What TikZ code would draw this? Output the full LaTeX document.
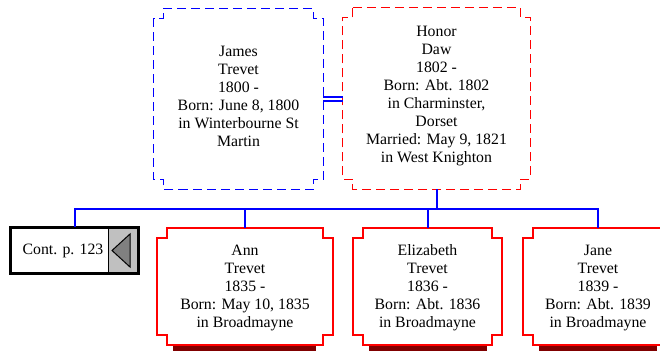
\documentclass[tikz,border=0pt]{standalone}
\usepackage{fontspec}
\setmainfont{Liberation Serif}
\usetikzlibrary{calc}
\definecolor{shadowred}{RGB}{128,0,0}
\definecolor{contgray}{RGB}{192,192,192}
\definecolor{trigray}{RGB}{128,128,128}
\tikzset{
  person/.style={inner sep=0pt, align=center, font=\fontsize{15.8bp}{18bp}\selectfont},
  dashblue/.style={draw=blue, line width=1bp, dash pattern=on 9bp off 5bp},
  dashred/.style={draw=red, line width=1bp, dash pattern=on 9bp off 5bp},
  childbox/.style={draw=red, line width=2bp, fill=white},
  bus/.style={draw=blue, line width=2bp},
  marriage/.style={draw=blue, line width=1.3bp},
  shadowbar/.style={fill=shadowred, draw=none}
}
\newcommand\notchbox[3]{% node, notch, style
  \draw[#3] ($(#1.north west)+(#2,0)$) -- ($(#1.north east)+(-#2,0)$) -- ++(0,-#2) -- ++(#2,0)
   -- ($(#1.south east)+(0,#2)$) -- ++(-#2,0) -- ++(0,-#2)
   -- ($(#1.south west)+(#2,0)$) -- ++(0,#2) -- ++(-#2,0)
   -- ($(#1.north west)+(0,-#2)$) -- ++(#2,0) -- cycle;}
\begin{document}
\begin{tikzpicture}[x=1bp,y=-1bp]
\useasboundingbox (0,0) rectangle (660,351);
% shadows
\fill[shadowbar] (173,343) rectangle (316,351);
\fill[shadowbar] (369,343) rectangle (487,351);
\fill[shadowbar] (539,343) rectangle (657,351);
% nodes (geometry)
\node[person, minimum width=169bp, minimum height=180bp] (james) at (238.5,99) {};
\node[person, minimum width=187bp, minimum height=181bp] (honor) at (436.5,98.5) {};
\node[person, minimum width=176bp, minimum height=117bp] (ann) at (245,286.5) {};
\node[person, minimum width=149bp, minimum height=117bp] (eliz) at (427.5,286.5) {};
\node[person, minimum width=150bp, minimum height=117bp] (jane) at (598,286.5) {};
% outlines
\notchbox{james}{9.5bp}{dashblue}
\notchbox{honor}{10bp}{dashred}
\notchbox{ann}{10bp}{childbox}
\notchbox{eliz}{10bp}{childbox}
\notchbox{jane}{10bp}{childbox}
% texts
\node[person] (jamestext) at (238.5,96) {James\\Trevet\\1800 -\\Born: June 8, 1800\\in Winterbourne St\\Martin};
\node[person] (honortext) at (436.5,96) {Honor\\Daw\\1802 -\\Born: Abt. 1802\\in Charminster,\\Dorset\\Married: May 9, 1821\\in West Knighton};
\node[person] (anntext) at (245,288) {Ann\\Trevet\\1835 -\\Born: May 10, 1835\\in Broadmayne};
\node[person] (eliztext) at (427.5,288) {Elizabeth\\Trevet\\1836 -\\Born: Abt. 1836\\in Broadmayne};
\node[person] (janetext) at (598,288) {Jane\\Trevet\\1839 -\\Born: Abt. 1839\\in Broadmayne};
% continuation box
\node[draw=black, line width=2bp, fill=white, minimum width=127bp, minimum height=45bp, inner sep=0pt] (cont) at (74.5,250.5) {};
\fill[contgray] (108,229) rectangle (137,272);
\draw[black, line width=0.8bp] (108,229) -- (108,272);
\draw[black, line width=2bp] (cont.north west) rectangle (cont.south east);
\draw[fill=trigray, draw=black, line width=1bp] (112,250.5) -- (130,234) -- (130,267) -- cycle;
\node[person] (conttext) at (63,250.5) {Cont. p. 123};
% connectors
\coordinate (bus) at (0,208.5);
\coordinate (m1) at (0,97);
\coordinate (m2) at (0,101);
\draw[marriage] (m1 -| james.east) -- (m1 -| honor.west);
\draw[marriage] (m2 -| james.east) -- (m2 -| honor.west);
\draw[bus] (honor.south) -- (honor.south |- bus);
\draw[bus] (cont.north) -- (cont.north |- bus) -- (jane.north |- bus) -- (jane.north);
\draw[bus] (ann.north |- bus) -- (ann.north);
\draw[bus] (eliz.north |- bus) -- (eliz.north);
\end{tikzpicture}
\end{document}
